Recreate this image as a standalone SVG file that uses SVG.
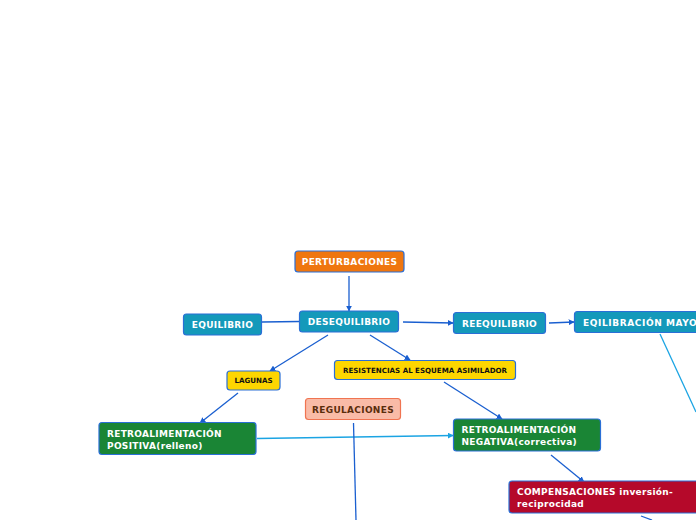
<svg xmlns="http://www.w3.org/2000/svg" width="696" height="520" viewBox="0 0 696 520">
<defs>
<style>
.n{stroke:#2a6fd6;stroke-width:1.2}
.t{font-family:"DejaVu Sans",Verdana,sans-serif;font-weight:bold;font-size:9px;fill:#fff;letter-spacing:0.3px}
.ts{font-family:"DejaVu Sans",Verdana,sans-serif;font-weight:bold;font-size:7.1px;fill:#111}
.c{fill:none;stroke:#1a5fd0;stroke-width:1.3}
.cl{fill:none;stroke:#1ba4e3;stroke-width:1.3}
</style>
<marker id="a" viewBox="0 0 10 10" refX="9" refY="5" markerWidth="6" markerHeight="6" orient="auto" markerUnits="userSpaceOnUse"><path d="M0,0L10,5L0,10z" fill="#1a5fd0"/></marker>
<marker id="al" viewBox="0 0 10 10" refX="9" refY="5" markerWidth="6" markerHeight="6" orient="auto" markerUnits="userSpaceOnUse"><path d="M0,0L10,5L0,10z" fill="#1ba4e3"/></marker>
</defs>
<rect width="696" height="520" fill="#fff"/>
<g id="connectors">
<path class="c" d="M349,276L349,311" marker-end="url(#a)"/>
<path class="c" d="M262,322L299,321.5"/>
<path class="c" d="M403,322L453,323" marker-end="url(#a)"/>
<path class="c" d="M549,323L574,322" marker-end="url(#a)"/>
<path class="c" d="M328,335L270,371" marker-end="url(#a)"/>
<path class="c" d="M370,335L410,360" marker-end="url(#a)"/>
<path class="c" d="M238,393L200,423" marker-end="url(#a)"/>
<path class="c" d="M444,382L502,419" marker-end="url(#a)"/>
<path class="cl" d="M257,438.5L453,435.5" marker-end="url(#al)"/>
<path class="c" d="M353.5,423L356,520"/>
<path class="c" d="M551,455L584,482" marker-end="url(#a)"/>
<path class="c" d="M641,516L652,520"/>
<path class="cl" d="M660,334L696,412"/>
</g>
<g id="perturbaciones"><rect class="n" x="295" y="251" width="109" height="21" rx="3" fill="#ef760f"/><text class="t" x="349.5" y="265" text-anchor="middle">PERTURBACIONES</text></g>
<g id="desequilibrio"><rect class="n" x="299.5" y="311" width="99" height="21" rx="3" fill="#1499ba"/><text class="t" x="349" y="325" text-anchor="middle">DESEQUILIBRIO</text></g>
<g id="equilibrio"><rect class="n" x="183.5" y="314" width="78" height="21" rx="3" fill="#1499ba"/><text class="t" x="222.5" y="328" text-anchor="middle">EQUILIBRIO</text></g>
<g id="reequilibrio"><rect class="n" x="453.5" y="312.5" width="92" height="21" rx="3" fill="#1499ba"/><text class="t" x="499.5" y="327" text-anchor="middle">REEQUILIBRIO</text></g>
<g id="eqilibracion"><rect class="n" x="574.5" y="311.5" width="130" height="21" rx="3" fill="#1499ba"/><text class="t" x="583" y="326" style="letter-spacing:0.6px">EQILIBRACIÓN MAYOR</text></g>
<g id="lagunas"><rect class="n" x="227" y="371" width="53" height="19" rx="3" fill="#fdd600"/><text class="ts" x="253.5" y="383" text-anchor="middle">LAGUNAS</text></g>
<g id="resistencias"><rect class="n" x="334.5" y="360.5" width="181" height="19" rx="3" fill="#fdd600"/><text class="ts" x="425" y="373" text-anchor="middle">RESISTENCIAS AL ESQUEMA ASIMILADOR</text></g>
<g id="regulaciones"><rect x="305.5" y="398.5" width="95" height="21" rx="3" fill="#f9bba7" stroke="#f07451" stroke-width="1.2"/><text class="t" x="353" y="412.5" text-anchor="middle" style="fill:#5a2d0c">REGULACIONES</text></g>
<g id="positiva"><rect class="n" x="99" y="422.5" width="157" height="32" rx="3" fill="#1a8535"/><text class="t" x="107" y="437">RETROALIMENTACIÓN</text><text class="t" x="107" y="448.5">POSITIVA(relleno)</text></g>
<g id="negativa"><rect class="n" x="453.5" y="419" width="147" height="32" rx="3" fill="#1a8535"/><text class="t" x="461.5" y="433">RETROALIMENTACIÓN</text><text class="t" x="461.5" y="444.5">NEGATIVA(correctiva)</text></g>
<g id="compensaciones"><rect class="n" x="509" y="481" width="200" height="32" rx="3" fill="#b5092a"/><text class="t" x="517" y="495">COMPENSACIONES inversión-</text><text class="t" x="517" y="506.5">reciprocidad</text></g>
</svg>
